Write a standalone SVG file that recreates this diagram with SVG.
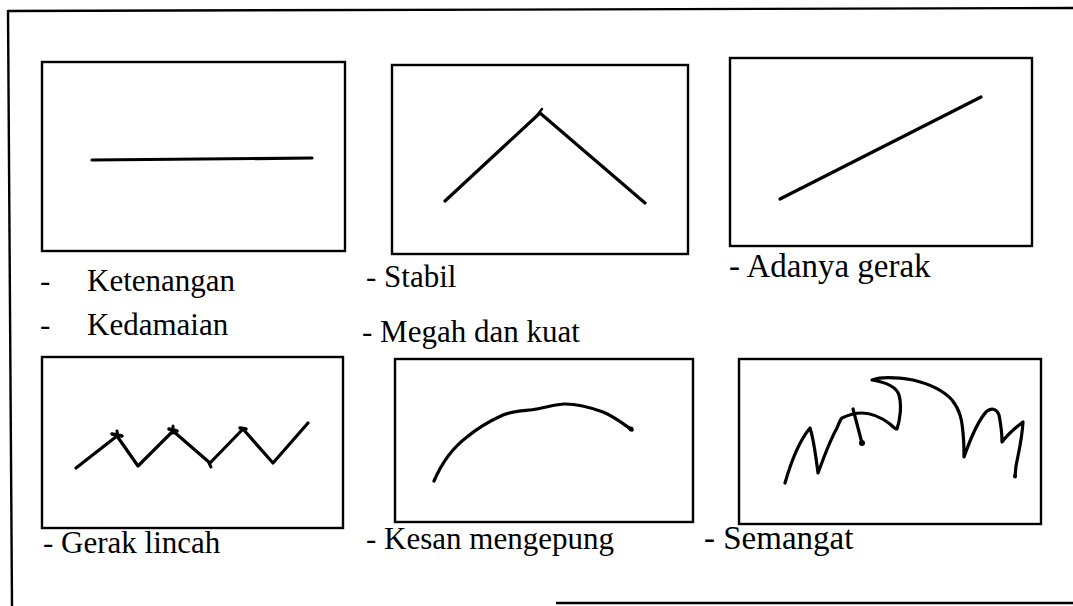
<svg xmlns="http://www.w3.org/2000/svg" width="1073" height="606" viewBox="0 0 1073 606">
<style>
.frame{fill:none;stroke:#000;stroke-width:2.4}
.box{fill:none;stroke:#000;stroke-width:2.4}
.ink{fill:none;stroke:#000;stroke-width:3.2;stroke-linecap:round;stroke-linejoin:round}
.lbl{font-family:"Liberation Serif","Times New Roman",serif;font-size:31px;fill:#000}
.big{font-size:33px}
</style>
<rect width="1073" height="606" fill="#fff"/>
<g id="frame">
<path class="frame" d="M8,11 L1073,8"/>
<path class="frame" d="M8,10 L12,606"/>
<path class="frame" d="M556,603 L1073,603"/>
</g>
<g id="n1">
<rect class="box" x="42" y="62" width="303" height="189"/>
<path class="ink" d="M92,160 L312,158"/>
<text class="lbl" y="291"><tspan x="40">-</tspan><tspan x="87">Ketenangan</tspan></text>
<text class="lbl" y="335"><tspan x="40">-</tspan><tspan x="87">Kedamaian</tspan></text>
</g>
<g id="n2">
<rect class="box" x="392" y="65" width="296" height="189"/>
<path class="ink" d="M445,201 L540,113 L645,203"/>
<path class="ink" d="M538,114 L542,109" style="stroke-width:2.5"/>
<text class="lbl" x="366" y="287">- Stabil</text>
<text class="lbl" x="362" y="342">- Megah dan kuat</text>
</g>
<g id="n3">
<rect class="box" x="730" y="58" width="302" height="188"/>
<path class="ink" d="M780,199 L981,97"/>
<text class="lbl big" x="729" y="277">- Adanya gerak</text>
</g>
<g id="n4">
<rect class="box" x="42" y="357" width="301" height="171"/>
<path class="ink" d="M76,468 L117,436 L138,466 L173,431 L210,463 L243,429 L273,463 L308,423"/>
<path class="ink" d="M112,434 L122,436 M169,429 L177,431 M240,428 L246,429" style="stroke-width:3.5"/>
<path class="ink" d="M117,431 L118,437 M173,426 L173,433 M209,463 L211,467" style="stroke-width:3"/>
<text class="lbl" x="43" y="553">- Gerak lincah</text>
</g>
<g id="n5">
<rect class="box" x="395" y="359" width="298" height="163"/>
<path class="ink" d="M434,481 C443,460 455,446 467,437 C480,426 492,420 503,415 C515,410 527,411 537,409 C548,407 556,404 565,404 C580,404 592,408 603,412 C615,417 622,423 632,430"/>
<circle cx="631" cy="429" r="2.5"/>
<text class="lbl" x="366" y="549">- Kesan mengepung</text>
</g>
<g id="n6">
<rect class="box" x="739" y="359" width="302" height="165"/>
<path class="ink" d="M785,483 C791,462 800,440 810,428 C814,440 816,458 818,473 C824,457 830,440 837,428 C839,423 840,420 842,418 C850,414 857,413 862,413 C872,413 882,418 890,424 C893,427 895,429 897,429 C900,420 902,405 899,395 C896,386 885,382 872,380 C880,377 895,377 913,380 C930,384 943,390 952,400 C960,410 962,420 963,433 C964,442 964,450 964,457 C970,440 978,420 987,411 C993,407 997,410 999,415 C1001,425 1002,435 1002,442 C1008,434 1015,428 1023,422 C1022,440 1018,455 1016,466 L1015,477"/>
<path class="ink" d="M853,409 C856,420 859,432 862,443"/>
<circle cx="862" cy="443" r="3"/>
<circle cx="1015" cy="476" r="2"/>
<text class="lbl big" x="704" y="549">- Semangat</text>
</g>
</svg>
